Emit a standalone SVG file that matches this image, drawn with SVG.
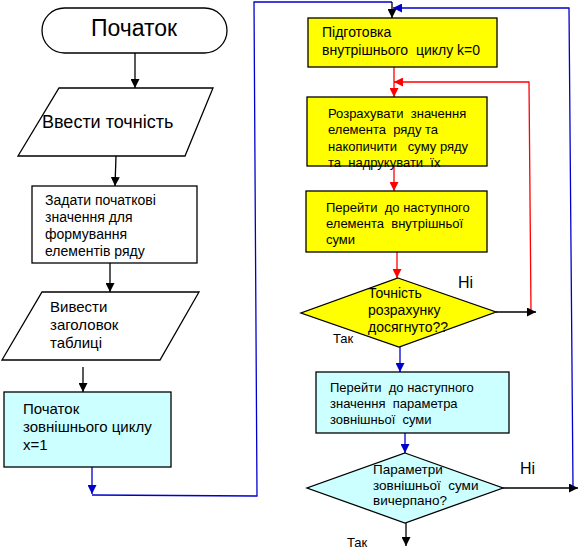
<svg xmlns="http://www.w3.org/2000/svg" width="586" height="559" viewBox="0 0 586 559">
<style>
text{font-family:"Liberation Sans",Arial,sans-serif;fill:#000;white-space:pre}
.s{stroke:#000;stroke-width:1.3}
.b{fill:none;stroke:#0000cc;stroke-width:1.3}
.r{fill:none;stroke:#ff0000;stroke-width:1.3}
.k{fill:none;stroke:#000;stroke-width:1.3}
.y{fill:#ffff00}
.c{fill:#ccffff}
.w{fill:#fff}
</style>
<defs>
<marker id="ak" viewBox="0 0 10 10" refX="10" refY="5" markerWidth="9" markerHeight="9" markerUnits="userSpaceOnUse" orient="auto"><path d="M0,0L10,5L0,10z" fill="#000"/></marker>
<marker id="ar" viewBox="0 0 10 10" refX="10" refY="5" markerWidth="9" markerHeight="9" markerUnits="userSpaceOnUse" orient="auto"><path d="M0,0L10,5L0,10z" fill="#ff0000"/></marker>
<marker id="ab" viewBox="0 0 10 10" refX="10" refY="5" markerWidth="9" markerHeight="9" markerUnits="userSpaceOnUse" orient="auto"><path d="M0,0L10,5L0,10z" fill="#0000cc"/></marker>
</defs>
<g id="connectors">
<path class="k" d="M135,53L135,88" marker-end="url(#ak)"/>
<path class="k" d="M116,156L115,186" marker-end="url(#ak)"/>
<path class="k" d="M110,263L110,292" marker-end="url(#ak)"/>
<path class="k" d="M83,367L83,392" marker-end="url(#ak)"/>
<path class="b" d="M92,467L92,494" marker-end="url(#ab)"/>
<path class="b" d="M92,495L257,496L254,2L392,2"/>
<path class="k" d="M392,2L392,18" marker-end="url(#ak)"/>
<path class="r" d="M394,67L394,97" marker-end="url(#ar)"/>
<path class="r" d="M531,312L529,82L394,82" marker-end="url(#ar)"/>
<path class="r" d="M394,166L394,191" marker-end="url(#ar)"/>
<path class="r" d="M397,252L397,278" marker-end="url(#ar)"/>
<path class="k" d="M496,312L536,312" marker-end="url(#ak)"/>
<path class="b" d="M400,347L400,372" marker-end="url(#ab)"/>
<path class="b" d="M405,433L405,453" marker-end="url(#ab)"/>
<path class="k" d="M503,488L578,488" marker-end="url(#ak)"/>
<path class="b" d="M573,487L569,8L393,8" marker-end="url(#ab)"/>
<path class="k" d="M406,523L406,546" marker-end="url(#ak)"/>
</g>
<g id="start">
<rect class="w s" x="42" y="8" width="185" height="45" rx="22.5"/>
<text x="134" y="36" font-size="23" text-anchor="middle">Початок</text>
</g>
<g id="input-precision">
<path class="w s" d="M59,88L213,88L185,156L18,156z"/>
<text x="42" y="128" font-size="18">Ввести точність</text>
</g>
<g id="init">
<rect class="w s" x="32" y="186" width="165" height="77"/>
<text font-size="14"><tspan x="45" y="205">Задати початкові</tspan><tspan x="45" y="222">значення для</tspan><tspan x="45" y="239">формування</tspan><tspan x="45" y="256">елементів ряду</tspan></text>
</g>
<g id="output-header">
<path class="w s" d="M42,292L199,292L160,360L2,360z"/>
<text font-size="15"><tspan x="50" y="312">Вивести</tspan><tspan x="50" y="330">заголовок</tspan><tspan x="50" y="348">таблиці</tspan></text>
</g>
<g id="outer-start">
<rect class="c s" x="4" y="392" width="167" height="75"/>
<text font-size="15"><tspan x="23" y="414">Початок</tspan><tspan x="23" y="432">зовнішнього циклу</tspan><tspan x="23" y="450">x=1</tspan></text>
</g>
<g id="inner-init">
<rect class="y s" x="308" y="18" width="189" height="49"/>
<text font-size="14"><tspan x="322" y="37">Підготовка</tspan><tspan x="322" y="55">внутрішнього  циклу k=0</tspan></text>
</g>
<g id="compute">
<rect class="y s" x="307" y="97" width="180" height="69"/>
<text font-size="13"><tspan x="328" y="118">Розрахувати  значення</tspan><tspan x="328" y="134">елемента  ряду та</tspan><tspan x="328" y="151">накопичити   суму ряду</tspan><tspan x="328" y="167">та  надрукувати  їх</tspan></text>
</g>
<g id="next-inner">
<rect class="y s" x="306" y="191" width="181" height="61"/>
<text font-size="13"><tspan x="326" y="212">Перейти  до наступного</tspan><tspan x="326" y="228">елемента  внутрішньої</tspan><tspan x="326" y="244">суми</tspan></text>
</g>
<g id="precision-check">
<path class="y s" d="M398,278L496,312L399,347L301,313z"/>
<text font-size="14"><tspan x="368" y="298">Точність</tspan><tspan x="368" y="315">розрахунку</tspan><tspan x="368" y="332">досягнуто??</tspan></text>
<text x="458" y="288" font-size="16">Ні</text>
<text x="333" y="343" font-size="13">Так</text>
</g>
<g id="next-outer">
<rect class="c s" x="316" y="372" width="193" height="61"/>
<text font-size="13"><tspan x="330" y="392">Перейти  до наступного</tspan><tspan x="330" y="408">значення  параметра</tspan><tspan x="330" y="424">зовнішньої  суми</tspan></text>
</g>
<g id="outer-check">
<path class="c s" d="M405,453L503,488L405,523L307,488z"/>
<text font-size="13.5"><tspan x="373" y="474">Параметри</tspan><tspan x="373" y="490">зовнішньої  суми</tspan><tspan x="373" y="505">вичерпано?</tspan></text>
<text x="520" y="474" font-size="16">Ні</text>
<text x="347" y="547" font-size="13">Так</text>
</g>
</svg>
